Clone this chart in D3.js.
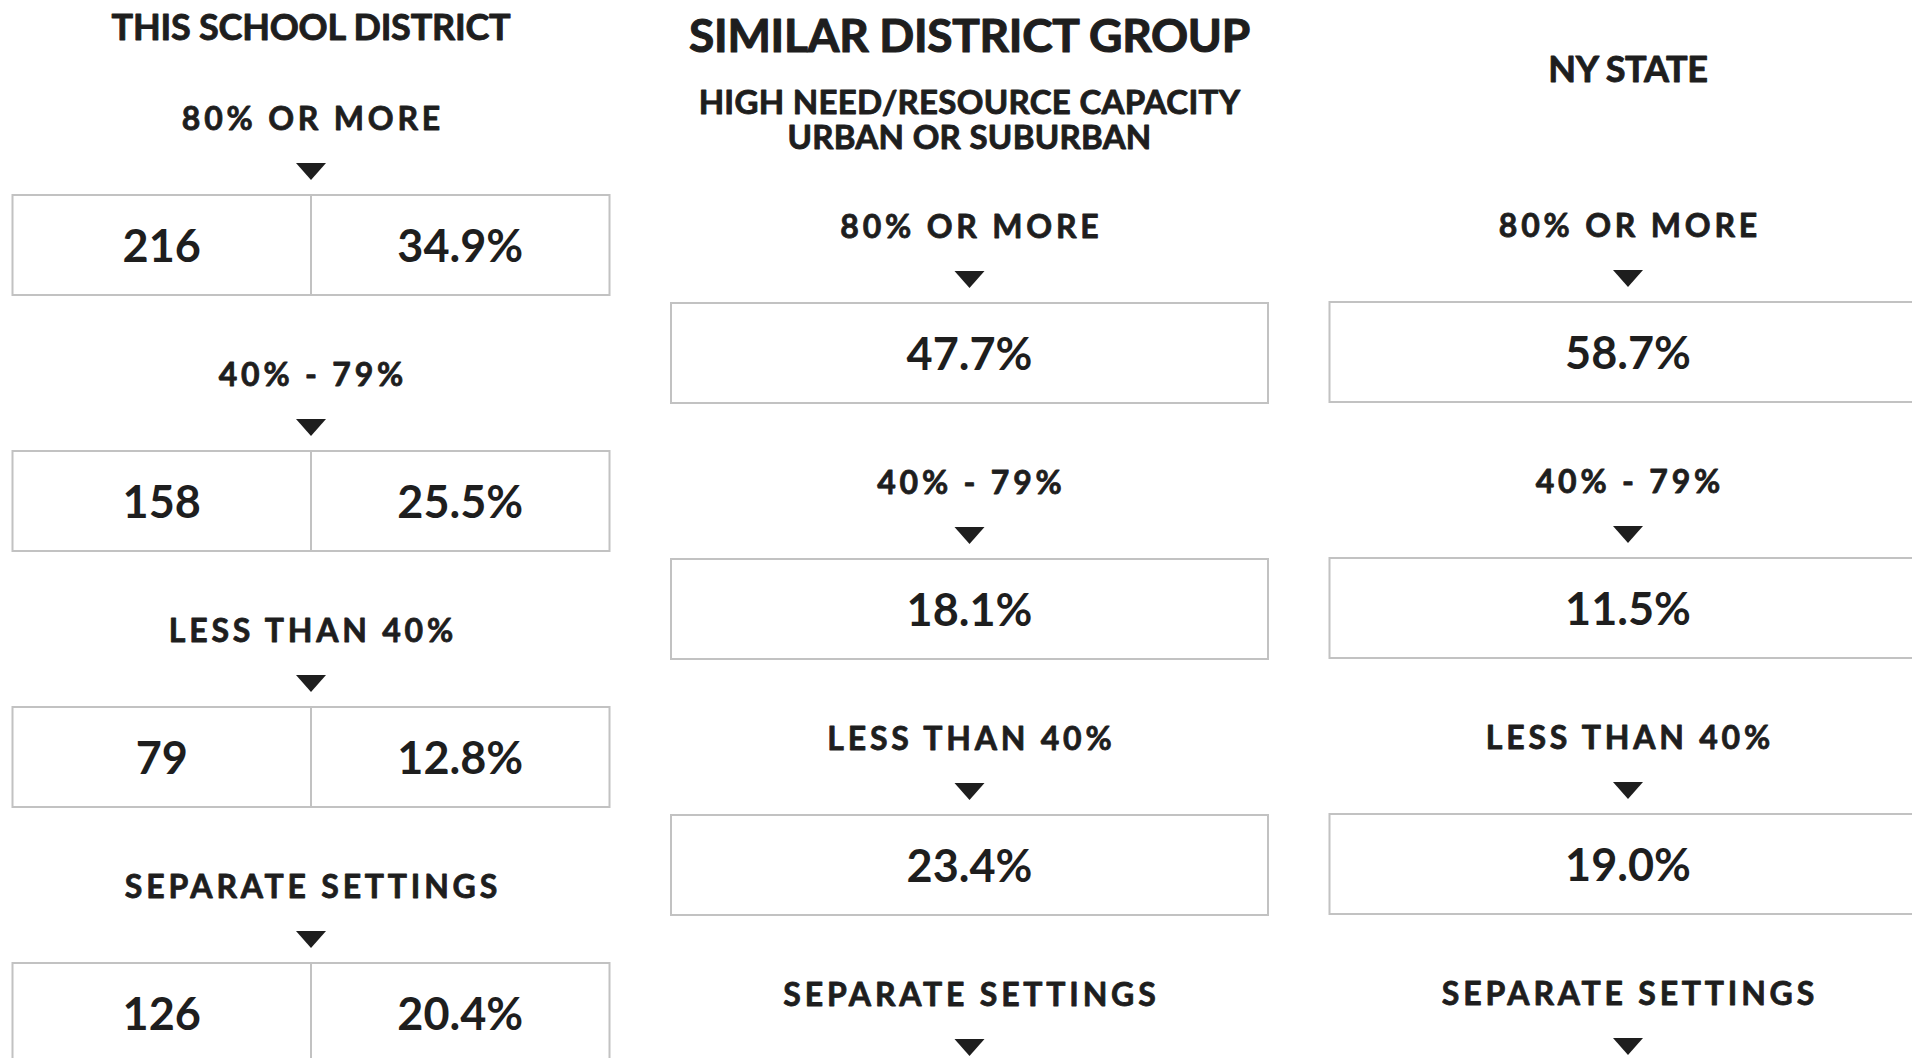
<!DOCTYPE html>
<html>
<head>
<meta charset="utf-8">
<script src="https://cdn.jsdelivr.net/npm/d3@7"></script>
<style>
  body { margin: 0; background: #fff; }
  svg { display: block; font-family: Lato, "Open Sans", sans-serif; }
</style>
</head>
<body>
<div id="chart-area"></div>
<script>
var width = 1912;
var height = 1058;

// data
var columns = ["THIS SCHOOL DISTRICT", "SIMILAR DISTRICT GROUP", "NY STATE"];
var groupLines = ["HIGH NEED/RESOURCE CAPACITY", "URBAN OR SUBURBAN"];
var categories = ["80% OR MORE", "40% - 79%", "LESS THAN 40%", "SEPARATE SETTINGS"];
var districtCounts = [216, 158, 79, 126];
var districtPct = [34.9, 25.5, 12.8, 20.4];
var similarPct = [47.7, 18.1, 23.4];
var statePct = [58.7, 11.5, 19.0];

var ink = "#1e1e1e";
var boxW = 597, boxH = 100;
var labelSpacing = 3.8;

var svg = d3.select("#chart-area")
  .append("svg")
  .attr("width", width)
  .attr("height", height);

svg.append("rect").attr("width", width).attr("height", height).attr("fill", "#fff");

// column centres
var x = d3.scalePoint()
  .domain(columns)
  .range([311, 1628]);

// box tops, one scale per column (the three stacks are offset)
var yLeft = d3.scaleLinear().domain([0, 3]).range([195, 963]);
var yMid = d3.scaleLinear().domain([0, 3]).range([303, 1071]);
var yRight = d3.scaleLinear().domain([0, 3]).range([302, 1070]);

var fmt = d3.format(".1f");

// heavy heading text (stroke thickens Lato Bold towards Black)
function heading(sel, size, spacing, thick) {
  return sel
    .attr("text-anchor", "middle")
    .attr("font-size", size + "px").attr("font-weight", 700)
    .attr("letter-spacing", spacing + "px")
    .attr("fill", ink)
    .attr("stroke", ink)
    .attr("stroke-width", thick)
    .attr("stroke-linejoin", "round");
}

svg.append("text")
  .attr("x", x(columns[0])).attr("y", 40)
  .call(heading, 36, -0.2, 0.9)
  .text(columns[0]);

svg.append("text")
  .attr("x", x(columns[1])).attr("y", 52)
  .call(heading, 46, -0.3, 1.1)
  .text(columns[1]);

svg.append("text")
  .attr("x", x(columns[1])).attr("y", 114)
  .call(heading, 33, 0.3, 0.9)
  .selectAll("tspan")
  .data(groupLines)
  .enter().append("tspan")
  .attr("x", x(columns[1]))
  .attr("dy", function(d, i) { return i ? 35 : 0; })
  .text(function(d) { return d; });

svg.append("text")
  .attr("x", x(columns[2])).attr("y", 82)
  .call(heading, 36, -0.3, 0.9)
  .text(columns[2]);

// one stack of labels, arrows and boxes
function drawStack(col, y, split, values, counts) {
  var cx = x(col);
  var g = svg.append("g");

  var cat = g.selectAll(".cat")
    .data(categories)
    .enter().append("g")
    .attr("class", "cat")
    .attr("transform", function(d, i) { return "translate(" + cx + "," + y(i) + ")"; });

  cat.append("text")
    .attr("x", labelSpacing / 2)
    .attr("y", -65)
    .call(heading, 32, labelSpacing, 0.8)
    .text(function(d) { return d; });

  cat.append("path")
    .attr("d", "M-15,-32L15,-32L0,-15Z")
    .attr("fill", ink);

  var box = cat.filter(function(d, i) { return i < values.length; });

  box.append("rect")
    .attr("x", -boxW / 2).attr("y", 0)
    .attr("width", boxW).attr("height", boxH)
    .attr("fill", "none")
    .attr("stroke", "#c2c2c2")
    .attr("stroke-width", 2);

  if (split) {
    box.append("line")
      .attr("x1", 0).attr("x2", 0)
      .attr("y1", 0).attr("y2", boxH)
      .attr("stroke", "#c2c2c2")
      .attr("stroke-width", 2);

    box.append("text")
      .attr("x", -boxW / 4).attr("y", 67)
      .attr("text-anchor", "middle")
      .attr("font-size", "45px").attr("font-weight", 700)
      .attr("fill", ink)
      .text(function(d, i) { return counts[i]; });

    box.append("text")
      .attr("x", boxW / 4).attr("y", 67)
      .attr("text-anchor", "middle")
      .attr("font-size", "45px").attr("font-weight", 700)
      .attr("fill", ink)
      .text(function(d, i) { return fmt(values[i]) + "%"; });
  } else {
    box.append("text")
      .attr("x", 0).attr("y", 67)
      .attr("text-anchor", "middle")
      .attr("font-size", "45px").attr("font-weight", 700)
      .attr("fill", ink)
      .text(function(d, i) { return fmt(values[i]) + "%"; });
  }
}

drawStack(columns[0], yLeft, true, districtPct, districtCounts);
drawStack(columns[1], yMid, false, similarPct);
drawStack(columns[2], yRight, false, statePct);
</script>
</body>
</html>
